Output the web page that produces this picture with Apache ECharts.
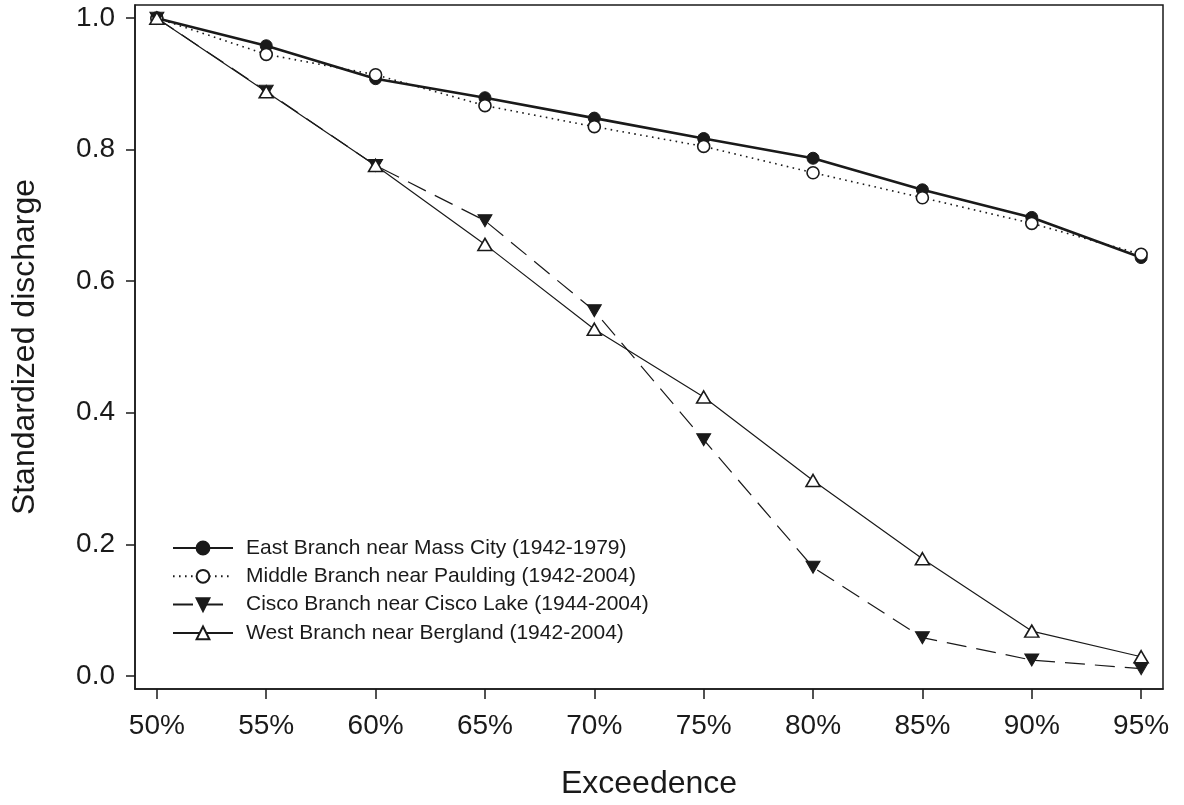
<!DOCTYPE html>
<html>
<head>
<meta charset="utf-8">
<script src="https://cdn.jsdelivr.net/npm/echarts@6/dist/echarts.min.js"></script>
<style>
html,body{margin:0;padding:0;background:#fff;}
#chart{width:1184px;height:805px;}
</style>
</head>
<body>
<div id="chart"></div>
<script>
const exceedence = [50, 55, 60, 65, 70, 75, 80, 85, 90, 95];
const yTicks = [0, 0.2, 0.4, 0.6, 0.8, 1.0];
const seriesNames = [
  'East Branch near Mass City (1942-1979)',
  'Middle Branch near Paulding (1942-2004)',
  'Cisco Branch near Cisco Lake (1944-2004)',
  'West Branch near Bergland (1942-2004)'
];
const eastBranch   = [1.0, 0.958, 0.908, 0.879, 0.848, 0.817, 0.787, 0.739, 0.697, 0.636];
const middleBranch = [1.0, 0.945, 0.914, 0.867, 0.835, 0.805, 0.765, 0.727, 0.688, 0.641];
const ciscoBranch  = [1.0, 0.889, 0.776, 0.692, 0.555, 0.359, 0.165, 0.058, 0.024, 0.011];
const westBranch   = [1.0, 0.888, 0.776, 0.656, 0.527, 0.424, 0.297, 0.178, 0.068, 0.029];

const ink = '#1a1a1a';
const font = "'Liberation Sans', Arial, Helvetica, sans-serif";
const pair = arr => exceedence.map((x, i) => [x, arr[i]]);

const chart = echarts.init(document.getElementById('chart'), null, {renderer: 'canvas'});
chart.setOption({
  animation: false,
  backgroundColor: '#fff',
  textStyle: {fontFamily: font, color: ink},
  grid: {left: 135, top: 5, right: 21, bottom: 114, show: true, borderColor: ink, borderWidth: 1.5, backgroundColor: 'transparent'},
  legend: {
    orient: 'vertical', left: 172, top: 536, padding: 0,
    itemWidth: 60, itemHeight: 16, itemGap: 4.3,
    textStyle: {fontFamily: font, fontSize: 21, color: ink, lineHeight: 24, padding: [0, 0, 0, 8]},
    data: seriesNames
  },
  xAxis: {
    type: 'value', min: 49, max: 96,
    name: 'Exceedence', nameLocation: 'middle', nameGap: 79,
    nameTextStyle: {fontFamily: font, fontSize: 32, color: ink},
    axisLine: {show: true, onZero: false, lineStyle: {color: ink, width: 1.5}},
    axisTick: {show: true, length: 10, lineStyle: {color: ink, width: 1.5}, customValues: exceedence},
    axisLabel: {fontFamily: font, fontSize: 28, color: ink, margin: 23, customValues: exceedence, formatter: v => v + '%'},
    splitLine: {show: false}
  },
  yAxis: {
    type: 'value', min: -0.02, max: 1.02,
    name: 'Standardized discharge', nameLocation: 'middle', nameGap: 94, nameRotate: 90,
    nameTextStyle: {fontFamily: font, fontSize: 32, color: ink},
    axisLine: {show: true, onZero: false, lineStyle: {color: ink, width: 1.5}},
    axisTick: {show: true, length: 9, lineStyle: {color: ink, width: 1.5}, customValues: yTicks},
    axisLabel: {fontFamily: font, fontSize: 28, color: ink, margin: 20, customValues: yTicks, formatter: v => v.toFixed(1)},
    splitLine: {show: false}
  },
  series: [
    {
      name: seriesNames[0], type: 'line', data: pair(eastBranch),
      symbol: 'circle', symbolSize: 12,
      lineStyle: {color: ink, width: 2.6},
      itemStyle: {color: ink, borderColor: ink, borderWidth: 1}
    },
    {
      name: seriesNames[1], type: 'line', data: pair(middleBranch),
      symbol: 'circle', symbolSize: 12,
      lineStyle: {color: ink, width: 1.6, type: [1.6, 4.4]},
      itemStyle: {color: '#fff', borderColor: ink, borderWidth: 1.6}
    },
    {
      name: seriesNames[2], type: 'line', data: pair(ciscoBranch),
      symbol: 'triangle', symbolSize: [14, 12], symbolRotate: 180,
      lineStyle: {color: ink, width: 1.2, type: [20, 10]},
      itemStyle: {color: ink, borderColor: ink, borderWidth: 1}
    },
    {
      name: seriesNames[3], type: 'line', data: pair(westBranch),
      symbol: 'triangle', symbolSize: [14, 12],
      lineStyle: {color: ink, width: 1.2},
      itemStyle: {color: '#fff', borderColor: ink, borderWidth: 1.6}
    }
  ]
});
</script>
</body>
</html>
